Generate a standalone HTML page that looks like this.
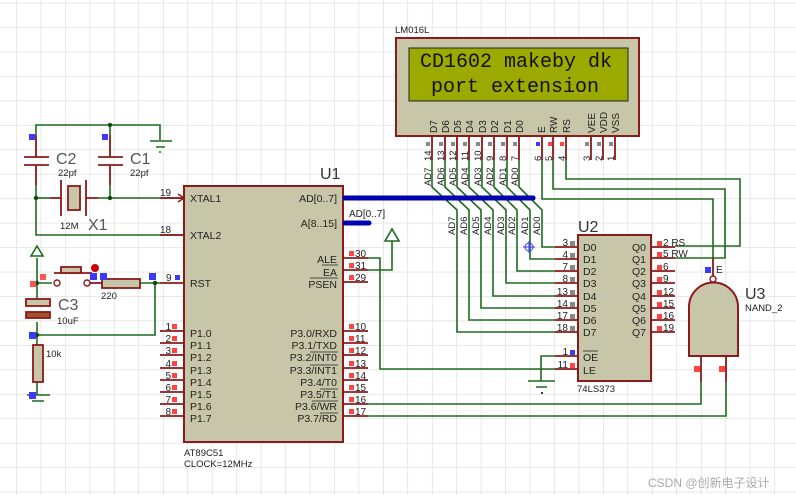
<!DOCTYPE html>
<html><head><meta charset="utf-8"><style>
html,body{margin:0;padding:0;background:#fff;width:796px;height:495px;overflow:hidden}
svg{display:block}
text{font-family:"Liberation Sans","Noto Sans CJK SC",sans-serif}
</style></head><body>
<svg width="796" height="495" viewBox="0 0 796 495" xmlns="http://www.w3.org/2000/svg">
<defs>
<pattern id="g" x="16.25" y="2.75" width="24.45" height="24.45" patternUnits="userSpaceOnUse">
<path d="M0 0H24.45M0 0V24.45" stroke="#d9d9d9" stroke-width="1.2" fill="none"/>
</pattern>
</defs>
<rect width="796" height="495" fill="#fff"/>
<rect width="796" height="495" fill="url(#g)"/>

<!-- ===== Crystal circuit ===== -->
<g fill="none" stroke="#1f6b1f" stroke-width="1.6">
<path d="M36 135V125H160V140"/>
<path d="M110 125V135"/>
<path d="M36 185V235H184"/>
<path d="M36 198H50"/>
<path d="M98 198H184"/>
<path d="M110 185V198"/>
</g>
<g stroke="#1f6b1f" stroke-width="1.6"><path d="M150 141H172M156 147H165M159 152H161"/></g>
<g fill="none" stroke="#8b1a1a" stroke-width="1.8">
<path d="M36 135V157M24 157H49M24 165H49M36 165V185"/>
<path d="M110 135V157M98 157H123M98 165H123M110 165V185"/>
<path d="M50 198H61M61 180V216M86 180V216M86 198H98"/>
<rect x="68" y="186" width="12" height="24" fill="#c8c6a8"/>
<path d="M160 198H184M160 235H184"/>
</g>
<path d="M178 194L184 198L178 202" fill="none" stroke="#8b1a1a" stroke-width="1.5"/>
<circle cx="36" cy="198" r="2.2" fill="#0a4a0a"/><circle cx="110" cy="198" r="2.2" fill="#0a4a0a"/><circle cx="110" cy="125" r="2.2" fill="#0a4a0a"/>
<rect x="29" y="134" width="6" height="6" fill="#3a3aff"/><rect x="102" y="134" width="6" height="6" fill="#3a3aff"/>
<g fill="#555" font-size="16"><text x="56" y="164">C2</text><text x="130" y="164">C1</text><text x="88" y="230">X1</text></g>
<g fill="#222" font-size="9.5"><text x="58" y="176">22pf</text><text x="130" y="176">22pf</text><text x="60" y="229">12M</text></g>
<g fill="#222" font-size="10"><text x="160" y="196">19</text><text x="160" y="233">18</text></g>

<!-- ===== Reset ===== -->
<g fill="none" stroke="#1f6b1f" stroke-width="1.6">
<path d="M37 258V283H52"/>
<path d="M37 283V298"/>
<path d="M37 322V335H155V283"/>
<path d="M140 283H160"/>
<path d="M37 335V345M37 382V395"/>
<path d="M27 395H50M32 401H44"/>
</g>
<path d="M31 256L37 246L43 256Z" fill="none" stroke="#1f6b1f" stroke-width="1.6"/>
<g fill="none" stroke="#8b1a1a" stroke-width="1.8">
<path d="M54 273H92"/>
<rect x="61" y="267" width="20" height="6" fill="#c8c6a8"/>
<path d="M90 283H102"/>
<rect x="102" y="279" width="38" height="9" fill="#c8c6a8"/>
<path d="M160 283H184"/>
<rect x="26" y="299" width="24" height="7" fill="#c8c6a8"/>
<rect x="26" y="312" width="24" height="6" fill="#a0522d"/>
<rect x="33" y="345" width="10" height="37" fill="#c8c6a8"/>
</g>
<circle cx="57" cy="283" r="3" fill="#fff" stroke="#8b1a1a" stroke-width="1.4"/>
<circle cx="87" cy="283" r="3" fill="#fff" stroke="#8b1a1a" stroke-width="1.4"/>
<circle cx="95" cy="268" r="4" fill="#c00"/>
<circle cx="37" cy="283" r="2.2" fill="#0a4a0a"/><circle cx="155" cy="283" r="2.2" fill="#0a4a0a"/><circle cx="37" cy="335" r="2.2" fill="#0a4a0a"/>
<g fill="#3a3aff"><rect x="90" y="273" width="7" height="7"/><rect x="100" y="273" width="7" height="7"/><rect x="149" y="273" width="7" height="7"/><rect x="175" y="275" width="5" height="5"/><rect x="29" y="332" width="7" height="7"/><rect x="29" y="392" width="7" height="7"/></g>
<g fill="#ff5555"><rect x="40" y="274" width="6" height="6"/><rect x="30" y="281" width="6" height="6"/></g>
<g fill="#555" font-size="16"><text x="58" y="310">C3</text></g>
<g fill="#222" font-size="9.5"><text x="101" y="299">220</text><text x="57" y="324">10uF</text><text x="46" y="357">10k</text><text x="166" y="281" font-size="10">9</text></g>

<!-- ===== U1 ===== -->
<rect x="184" y="186" width="159" height="256" fill="#c8c6a8" stroke="#8b1a1a" stroke-width="2"/>
<text x="320" y="179" font-size="16" fill="#333">U1</text>
<g fill="#222" font-size="10.5">
<text x="190" y="202">XTAL1</text><text x="190" y="239">XTAL2</text><text x="190" y="287">RST</text>
<text x="190" y="337">P1.0</text><text x="190" y="349">P1.1</text><text x="190" y="361">P1.2</text><text x="190" y="374">P1.3</text><text x="190" y="386">P1.4</text><text x="190" y="398">P1.5</text><text x="190" y="410">P1.6</text><text x="190" y="422">P1.7</text>
</g>
<g fill="#222" font-size="10.5" text-anchor="end">
<text x="337" y="202">AD[0..7]</text><text x="337" y="227">A[8..15]</text>
<text x="337" y="263">ALE</text><text x="337" y="276">EA</text><text x="337" y="288">PSEN</text>
<text x="337" y="337">P3.0/RXD</text><text x="337" y="349">P3.1/TXD</text><text x="337" y="361">P3.2/INT0</text><text x="337" y="374">P3.3/INT1</text><text x="337" y="386">P3.4/T0</text><text x="337" y="398">P3.5/T1</text><text x="337" y="410">P3.6/WR</text><text x="337" y="422">P3.7/RD</text>
</g>
<g stroke="#222" stroke-width="0.8"><path d="M322 265H338M310 278H338M310 352H338M310 365H338M320 389H338M312 401H338M320 413H338"/></g>
<g stroke="#8b1a1a" stroke-width="1.8">
<path d="M160 331H184M160 343H184M160 355H184M160 368H184M160 380H184M160 392H184M160 404H184M160 416H184"/>
<path d="M343 258H368M343 270H368M343 282H368"/>
<path d="M343 331H368M343 343H368M343 355H368M343 368H368M343 380H368M343 392H368M343 404H368M343 416H368"/>
</g>
<g fill="#ff4444">
<rect x="172" y="324" width="5" height="5"/><rect x="172" y="336" width="5" height="5"/><rect x="172" y="348" width="5" height="5"/><rect x="172" y="361" width="5" height="5"/><rect x="172" y="373" width="5" height="5"/><rect x="172" y="385" width="5" height="5"/><rect x="172" y="397" width="5" height="5"/><rect x="172" y="409" width="5" height="5"/>
<rect x="349" y="251" width="5" height="5"/><rect x="349" y="263" width="5" height="5"/><rect x="349" y="275" width="5" height="5"/>
<rect x="349" y="324" width="5" height="5"/><rect x="349" y="336" width="5" height="5"/><rect x="349" y="348" width="5" height="5"/><rect x="349" y="361" width="5" height="5"/><rect x="349" y="373" width="5" height="5"/><rect x="349" y="385" width="5" height="5"/><rect x="349" y="397" width="5" height="5"/><rect x="349" y="409" width="5" height="5"/>
</g>
<g fill="#222" font-size="10" text-anchor="end">
<text x="171" y="330">1</text><text x="171" y="342">2</text><text x="171" y="354">3</text><text x="171" y="367">4</text><text x="171" y="379">5</text><text x="171" y="391">6</text><text x="171" y="403">7</text><text x="171" y="415">8</text>
</g>
<g fill="#222" font-size="10">
<text x="355" y="257">30</text><text x="355" y="269">31</text><text x="355" y="281">29</text>
<text x="355" y="330">10</text><text x="355" y="342">11</text><text x="355" y="354">12</text><text x="355" y="367">13</text><text x="355" y="379">14</text><text x="355" y="391">15</text><text x="355" y="403">16</text><text x="355" y="415">17</text>
</g>
<g fill="#222" font-size="9.5"><text x="184" y="456">AT89C51</text><text x="184" y="467">CLOCK=12MHz</text></g>

<!-- buses -->
<path d="M345 198H533" stroke="#0000b0" stroke-width="5" stroke-linecap="round"/>
<path d="M345 223H369" stroke="#0000b0" stroke-width="5" stroke-linecap="round"/>
<text x="349" y="217" font-size="10" fill="#222">AD[0..7]</text>

<!-- ALE/EA/P3.6/P3.7 wires -->
<g fill="none" stroke="#1f6b1f" stroke-width="1.6">
<path d="M368 258H380V369H555"/>
<path d="M368 270H392V241"/>
<path d="M368 404H701V382"/>
<path d="M368 416H726V382"/>
<path d="M555 356H541V381"/>
<path d="M528 381H555M536 387H547"/>
</g>
<path d="M385 241L392 229L399 241Z" fill="none" stroke="#1f6b1f" stroke-width="1.6"/>
<rect x="541" y="392" width="2" height="2" fill="#333"/>

<!-- ===== LCD ===== -->
<text x="395" y="33" font-size="9.5" fill="#222">LM016L</text>
<rect x="396" y="38" width="243" height="98" fill="#c8c6a8" stroke="#8b1a1a" stroke-width="2"/>
<rect x="409" y="48" width="219" height="53" fill="#9caa00" stroke="#222" stroke-width="1"/>
<g font-family="Liberation Mono,monospace" font-size="20" fill="#111"><text x="420" y="67" style="font-family:'Liberation Mono',monospace">CD1602 makeby dk</text><text x="431" y="92" style="font-family:'Liberation Mono',monospace">port extension</text></g>
<g fill="#222" font-size="10">
<text transform="translate(437 133) rotate(-90)">D7</text>
<text transform="translate(449 133) rotate(-90)">D6</text>
<text transform="translate(461 133) rotate(-90)">D5</text>
<text transform="translate(473 133) rotate(-90)">D4</text>
<text transform="translate(486 133) rotate(-90)">D3</text>
<text transform="translate(498 133) rotate(-90)">D2</text>
<text transform="translate(511 133) rotate(-90)">D1</text>
<text transform="translate(523 133) rotate(-90)">D0</text>
<text transform="translate(545 133) rotate(-90)">E</text>
<text transform="translate(557 133) rotate(-90)">RW</text>
<text transform="translate(570 133) rotate(-90)">RS</text>
<text transform="translate(595 133) rotate(-90)">VEE</text>
<text transform="translate(607 133) rotate(-90)">VDD</text>
<text transform="translate(619 133) rotate(-90)">VSS</text>
</g>
<g stroke="#8b1a1a" stroke-width="1.8">
<path d="M432 137V160M445 137V160M457 137V160M469 137V160M482 137V160M494 137V160M507 137V160M519 137V160M542 137V160M553 137V160M566 137V160M591 137V160M603 137V160M615 137V160"/>
</g>
<g fill="#888">
<rect x="426" y="142" width="4" height="4"/><rect x="439" y="142" width="4" height="4"/><rect x="451" y="142" width="4" height="4"/><rect x="463" y="142" width="4" height="4"/><rect x="476" y="142" width="4" height="4"/><rect x="488" y="142" width="4" height="4"/><rect x="501" y="142" width="4" height="4"/><rect x="513" y="142" width="4" height="4"/>
<rect x="585" y="142" width="4" height="4"/><rect x="597" y="142" width="4" height="4"/><rect x="609" y="142" width="4" height="4"/>
</g>
<rect x="536" y="142" width="4" height="4" fill="#3a3aff"/><rect x="548" y="142" width="4" height="4" fill="#ff4444"/><rect x="560" y="142" width="4" height="4" fill="#ff4444"/>
<g fill="#222" font-size="9.5">
<text transform="translate(431 161) rotate(-90)">14</text><text transform="translate(444 161) rotate(-90)">13</text><text transform="translate(456 161) rotate(-90)">12</text><text transform="translate(468 161) rotate(-90)">11</text><text transform="translate(481 161) rotate(-90)">10</text><text transform="translate(493 161) rotate(-90)">9</text><text transform="translate(506 161) rotate(-90)">8</text><text transform="translate(518 161) rotate(-90)">7</text>
<text transform="translate(541 161) rotate(-90)">6</text><text transform="translate(552 161) rotate(-90)">5</text><text transform="translate(565 161) rotate(-90)">4</text>
<text transform="translate(590 161) rotate(-90)">3</text><text transform="translate(602 161) rotate(-90)">2</text><text transform="translate(614 161) rotate(-90)">1</text>
</g>
<!-- data wires -->
<g fill="none" stroke="#1f6b1f" stroke-width="1.6">
<path d="M432 160V187L457 210V332H555"/>
<path d="M445 160V187L469 210V320H555"/>
<path d="M457 160V187L481 210V308H555"/>
<path d="M469 160V187L493 210V296H555"/>
<path d="M482 160V187L506 210V283H555"/>
<path d="M494 160V187L517 210V271H555"/>
<path d="M507 160V187L530 210V259H555"/>
<path d="M519 160V187L542 210V247H555"/>
<path d="M566 160V179H740V246H675"/>
<path d="M553 160V189H725V258H675"/>
<path d="M542 160V199H713V258"/>
</g>
<path d="M345 198H533" stroke="#0000b0" stroke-width="5" stroke-linecap="round"/>
<g fill="#222" font-size="9.5">
<text transform="translate(431 186) rotate(-90)">AD7</text><text transform="translate(444 186) rotate(-90)">AD6</text><text transform="translate(456 186) rotate(-90)">AD5</text><text transform="translate(468 186) rotate(-90)">AD4</text><text transform="translate(481 186) rotate(-90)">AD3</text><text transform="translate(493 186) rotate(-90)">AD2</text><text transform="translate(506 186) rotate(-90)">AD1</text><text transform="translate(518 186) rotate(-90)">AD0</text>
<text transform="translate(455 235) rotate(-90)">AD7</text><text transform="translate(467 235) rotate(-90)">AD6</text><text transform="translate(479 235) rotate(-90)">AD5</text><text transform="translate(491 235) rotate(-90)">AD4</text><text transform="translate(504 235) rotate(-90)">AD3</text><text transform="translate(515 235) rotate(-90)">AD2</text><text transform="translate(528 235) rotate(-90)">AD1</text><text transform="translate(540 235) rotate(-90)">AD0</text>
</g>
<circle cx="529" cy="247" r="4" fill="none" stroke="#3a3aff" stroke-width="1"/><path d="M523 247H535M529 241V253" stroke="#3a3aff" stroke-width="1"/>

<!-- ===== U2 ===== -->
<text x="578" y="232" font-size="16" fill="#333">U2</text>
<rect x="578" y="235" width="73" height="146" fill="#c8c6a8" stroke="#8b1a1a" stroke-width="2"/>
<g stroke="#8b1a1a" stroke-width="1.8">
<path d="M555 247H578M555 259H578M555 271H578M555 283H578M555 296H578M555 308H578M555 320H578M555 332H578M555 356H578M555 369H578"/>
<path d="M651 247H675M651 258H675M651 271H675M651 283H675M651 296H675M651 308H675M651 320H675M651 332H675"/>
</g>
<g fill="#888"><rect x="570" y="241" width="5" height="5"/><rect x="570" y="253" width="5" height="5"/><rect x="570" y="265" width="5" height="5"/><rect x="570" y="277" width="5" height="5"/><rect x="570" y="290" width="5" height="5"/><rect x="570" y="302" width="5" height="5"/><rect x="570" y="314" width="5" height="5"/><rect x="570" y="326" width="5" height="5"/></g>
<rect x="570" y="350" width="5" height="5" fill="#3a3aff"/><rect x="570" y="363" width="5" height="5" fill="#ff4444"/>
<g fill="#ff4444"><rect x="657" y="241" width="5" height="5"/><rect x="657" y="252" width="5" height="5"/><rect x="657" y="265" width="5" height="5"/><rect x="657" y="277" width="5" height="5"/><rect x="657" y="290" width="5" height="5"/><rect x="657" y="302" width="5" height="5"/><rect x="657" y="314" width="5" height="5"/><rect x="657" y="326" width="5" height="5"/></g>
<g fill="#222" font-size="10" text-anchor="end">
<text x="568" y="246">3</text><text x="568" y="258">4</text><text x="568" y="270">7</text><text x="568" y="282">8</text><text x="568" y="295">13</text><text x="568" y="307">14</text><text x="568" y="319">17</text><text x="568" y="331">18</text><text x="568" y="355">1</text><text x="568" y="368">11</text>
</g>
<g fill="#222" font-size="10">
<text x="663" y="246">2 RS</text><text x="663" y="257">5 RW</text><text x="663" y="270">6</text><text x="663" y="282">9</text><text x="663" y="295">12</text><text x="663" y="307">15</text><text x="663" y="319">16</text><text x="663" y="331">19</text>
</g>
<g fill="#222" font-size="10.5">
<text x="583" y="251">D0</text><text x="583" y="263">D1</text><text x="583" y="275">D2</text><text x="583" y="287">D3</text><text x="583" y="300">D4</text><text x="583" y="312">D5</text><text x="583" y="324">D6</text><text x="583" y="336">D7</text>
<text x="583" y="361">OE</text><text x="583" y="374">LE</text>
</g>
<path d="M583 351H598" stroke="#222" stroke-width="0.8"/>
<g fill="#222" font-size="10.5" text-anchor="end">
<text x="646" y="251">Q0</text><text x="646" y="263">Q1</text><text x="646" y="275">Q2</text><text x="646" y="287">Q3</text><text x="646" y="300">Q4</text><text x="646" y="312">Q5</text><text x="646" y="324">Q6</text><text x="646" y="336">Q7</text>
</g>
<text x="577" y="392" font-size="9.5" fill="#222">74LS373</text>

<!-- ===== U3 NAND ===== -->
<path d="M713 258V276" stroke="#8b1a1a" stroke-width="1.8"/>
<circle cx="713" cy="279" r="3" fill="#fff" stroke="#8b1a1a" stroke-width="1.4"/>
<path d="M689 356V307A24.5 24.5 0 0 1 738 307V356Z" fill="#c8c6a8" stroke="#8b1a1a" stroke-width="2"/>
<path d="M701 356V382M726 356V382" stroke="#8b1a1a" stroke-width="1.8"/>
<rect x="694" y="366" width="6" height="6" fill="#ff4444"/><rect x="719" y="366" width="6" height="6" fill="#ff4444"/>
<rect x="705" y="267" width="6" height="6" fill="#3a3aff"/>
<text x="716" y="273" font-size="10" fill="#222">E</text>
<text x="745" y="299" font-size="16" fill="#333">U3</text>
<text x="745" y="311" font-size="9.5" fill="#222">NAND_2</text>

<text x="648" y="487" font-size="12" fill="#aaa">CSDN @创新电子设计</text>
</svg>
</body></html>
